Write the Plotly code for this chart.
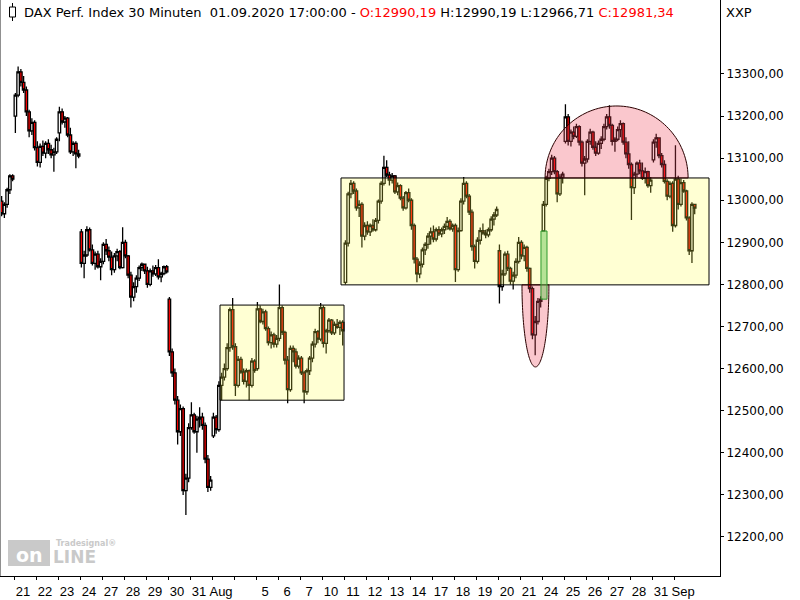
import numpy as np
import plotly.graph_objects as go

# session labels on the time axis (one per trading day, "" = no label)
day_labels = ["21", "22", "23", "24", "27", "28", "29", "30", "31", "Aug", "",
              "5", "6", "7", "10", "11", "12", "13", "14", "17", "18", "19", "20",
              "21", "24", "25", "26", "27", "28", "31", "Sep"]
bars_per_day = 8
first_bar = -5  # last bars of 20 July still visible at the left edge

# OHLC, one row per session (first row = tail of 20 July)
opens = [
    12998, 12968, 12990, 13025, 13058,
    13200, 13250, 13305, 13280, 13262, 13210, 13165, 13185,
    13125, 13090, 13128, 13112, 13135, 13120, 13108, 13115,
    13160, 13210, 13186, 13195, 13155, 13115, 13135, 13110,
    12925, 12850, 12870, 12930, 12882, 12850, 12872, 12842,
    12855, 12895, 12880, 12865, 12835, 12868, 12878, 12840,
    12900, 12868, 12822, 12770, 12795, 12815, 12840, 12848,
    12832, 12800, 12832, 12825, 12840, 12818, 12826, 12842,
    12765, 12640, 12590, 12525, 12450, 12505, 12310, 12340,
    12460, 12490, 12450, 12480, 12485, 12465, 12385, 12318,
    12440, 12485, 12455, 12560, 12580, 12600, 12650, 12740,
    12652, 12560, 12622, 12592, 12570, 12595, 12560, 12618,
    12600, 12742, 12712, 12735, 12695, 12662, 12680, 12658,
    12672, 12745, 12686, 12620, 12550, 12648, 12640, 12606,
    12625, 12590, 12545, 12595, 12625, 12658, 12688, 12670,
    12745, 12660, 12690, 12715, 12685, 12705, 12698, 12710,
    12805, 12898, 13015, 13040, 13022, 12982, 12990, 12915,
    12940, 12925, 12940, 12930, 12952, 12998, 13040, 13078,
    13060, 13048, 13058, 13020, 13035, 13005, 12982, 13018,
    13000, 12940, 12860, 12825, 12848, 12882, 12895, 12915,
    12925, 12908, 12930, 12920, 12930, 12938, 12950, 12932,
    12940, 12835, 12928, 12998, 13040, 13010, 12972, 12890,
    12855, 12905, 12928, 12922, 12918, 12930, 12955, 12965,
    12880, 12795, 12825, 12872, 12838, 12808, 12822, 12855,
    12900, 12868, 12888, 12838, 12790, 12680, 12712, 12760,
    12927, 12990, 13052, 13068, 13100, 13068, 13015, 13055,
    13140, 13198, 13140, 13162, 13152, 13175, 13138, 13088,
    13098, 13140, 13162, 13126, 13112, 13135, 13145, 13175,
    13198, 13178, 13140, 13145, 13168, 13182, 13138, 13110,
    13085, 13030, 13062, 13088, 13070, 13052, 13068, 13035,
    13096, 13138, 13148, 13106, 13085, 13045, 13010, 13040,
    12940, 13050, 12990, 13042, 13022, 12958, 12880, 12990.19,
]
highs = [
    13010, 12995, 13030, 13062, 13062,
    13255, 13318, 13312, 13295, 13270, 13215, 13195, 13190,
    13140, 13135, 13142, 13140, 13145, 13132, 13125, 13150,
    13222, 13218, 13200, 13198, 13172, 13140, 13140, 13120,
    12932, 12880, 12938, 12935, 12895, 12878, 12880, 12862,
    12900, 12908, 12890, 12878, 12875, 12885, 12882, 12936,
    12906, 12870, 12830, 12805, 12822, 12845, 12852, 12850,
    12842, 12838, 12845, 12846, 12860, 12830, 12845, 12846,
    12770, 12648, 12600, 12535, 12515, 12510, 12350, 12470,
    12520, 12495, 12488, 12508, 12495, 12472, 12395, 12345,
    12495, 12490, 12570, 12590, 12612, 12660, 12745, 12768,
    12660, 12630, 12628, 12600, 12600, 12598, 12625, 12622,
    12758, 12750, 12742, 12740, 12700, 12688, 12685, 12680,
    12800, 12750, 12690, 12630, 12655, 12655, 12648, 12632,
    12630, 12595, 12600, 12630, 12665, 12695, 12692, 12756,
    12750, 12695, 12720, 12718, 12712, 12718, 12715, 12715,
    12905, 13020, 13048, 13045, 13028, 13000, 12995, 12948,
    12950, 12945, 12955, 12958, 13002, 13045, 13106, 13095,
    13068, 13065, 13060, 13042, 13038, 13010, 13022, 13028,
    13005, 12945, 12865, 12855, 12888, 12900, 12922, 12935,
    12940, 12935, 12938, 12935, 12945, 12960, 12955, 12945,
    12945, 12935, 13005, 13055, 13045, 13015, 12978, 12895,
    12912, 12935, 12945, 12930, 12935, 12962, 12972, 12985,
    12895, 12835, 12878, 12880, 12842, 12830, 12862, 12913,
    12905, 12895, 12892, 12840, 12795, 12725, 12768, 12772,
    12998, 13058, 13075, 13108, 13105, 13072, 13062, 13068,
    13228, 13205, 13168, 13175, 13182, 13178, 13142, 13105,
    13145, 13170, 13165, 13140, 13142, 13152, 13182, 13205,
    13226, 13182, 13150, 13175, 13190, 13185, 13150, 13140,
    13090, 13068, 13092, 13096, 13090, 13078, 13070, 13055,
    13145, 13158, 13150, 13112, 13095, 13050, 13045, 13045,
    13131, 13058, 13052, 13048, 13025, 12962, 12995, 12990.19,
]
lows = [
    12962, 12958, 12982, 13015, 13045,
    13160, 13245, 13270, 13255, 13200, 13150, 13155, 13118,
    13080, 13078, 13105, 13100, 13110, 13100, 13068, 13110,
    13140, 13180, 13172, 13150, 13110, 13105, 13076, 13100,
    12840, 12815, 12865, 12878, 12845, 12835, 12838, 12810,
    12848, 12870, 12855, 12822, 12828, 12855, 12836, 12838,
    12862, 12815, 12745, 12760, 12780, 12808, 12832, 12825,
    12792, 12796, 12818, 12820, 12812, 12805, 12822, 12826,
    12630, 12580, 12515, 12420, 12440, 12300, 12252, 12330,
    12455, 12445, 12400, 12460, 12455, 12375, 12307, 12310,
    12435, 12445, 12450, 12525, 12572, 12595, 12640, 12645,
    12535, 12555, 12588, 12562, 12555, 12525, 12555, 12590,
    12595, 12708, 12705, 12690, 12655, 12648, 12650, 12650,
    12665, 12680, 12610, 12518, 12545, 12615, 12600, 12600,
    12585, 12518, 12538, 12585, 12615, 12650, 12660, 12665,
    12650, 12636, 12685, 12680, 12680, 12695, 12680, 12655,
    12800, 12890, 13005, 13015, 12975, 12960, 12888, 12905,
    12918, 12915, 12925, 12926, 12945, 12992, 13035, 13055,
    13035, 13040, 13015, 13012, 13000, 12975, 12978, 12995,
    12930, 12850, 12805, 12815, 12840, 12870, 12885, 12895,
    12900, 12902, 12915, 12912, 12920, 12930, 12928, 12925,
    12806, 12830, 12925, 12990, 13005, 12965, 12880, 12838,
    12850, 12895, 12918, 12910, 12912, 12925, 12940, 12960,
    12755, 12785, 12820, 12832, 12800, 12788, 12815, 12850,
    12860, 12855, 12830, 12780, 12670, 12632, 12705, 12745,
    12925, 12985, 13045, 13060, 13062, 12995, 13010, 13040,
    13135, 13130, 13128, 13145, 13148, 13130, 13080, 13012,
    13090, 13132, 13120, 13105, 13108, 13122, 13140, 13168,
    13170, 13130, 13115, 13140, 13150, 13132, 13100, 13075,
    12953, 13015, 13055, 13062, 13048, 13040, 13030, 13018,
    13090, 13125, 13100, 13078, 13040, 13000, 13005, 12925,
    12935, 12978, 12985, 13018, 12952, 12870, 12851, 12966.71,
]
closes = [
    12968, 12990, 13025, 13058, 13050,
    13250, 13305, 13280, 13262, 13210, 13165, 13185, 13125,
    13090, 13128, 13112, 13135, 13120, 13108, 13115, 13145,
    13210, 13186, 13195, 13155, 13115, 13135, 13110, 13105,
    12850, 12870, 12930, 12882, 12850, 12872, 12842, 12855,
    12895, 12880, 12865, 12835, 12868, 12878, 12840, 12900,
    12868, 12822, 12770, 12795, 12815, 12840, 12848, 12832,
    12800, 12832, 12825, 12840, 12818, 12826, 12842, 12830,
    12640, 12590, 12525, 12450, 12505, 12310, 12340, 12460,
    12490, 12450, 12480, 12485, 12465, 12385, 12318, 12335,
    12485, 12455, 12560, 12580, 12600, 12650, 12740, 12652,
    12560, 12622, 12592, 12570, 12595, 12560, 12618, 12596,
    12742, 12712, 12735, 12695, 12662, 12680, 12658, 12672,
    12745, 12686, 12620, 12550, 12648, 12640, 12606, 12625,
    12590, 12545, 12595, 12625, 12658, 12688, 12670, 12745,
    12660, 12690, 12715, 12685, 12705, 12698, 12710, 12690,
    12898, 13015, 13040, 13022, 12982, 12990, 12915, 12940,
    12925, 12940, 12930, 12952, 12998, 13040, 13078, 13060,
    13048, 13058, 13020, 13035, 13005, 12982, 13018, 13000,
    12940, 12860, 12825, 12848, 12882, 12895, 12915, 12925,
    12908, 12930, 12920, 12930, 12938, 12950, 12932, 12940,
    12835, 12928, 12998, 13040, 13010, 12972, 12890, 12855,
    12905, 12928, 12922, 12918, 12930, 12955, 12965, 12978,
    12795, 12825, 12872, 12838, 12808, 12822, 12855, 12900,
    12868, 12888, 12838, 12790, 12680, 12712, 12760, 12765,
    12990, 13052, 13068, 13100, 13068, 13015, 13055, 13062,
    13198, 13140, 13162, 13152, 13175, 13138, 13088, 13098,
    13140, 13162, 13126, 13112, 13135, 13145, 13175, 13198,
    13178, 13140, 13145, 13168, 13182, 13138, 13110, 13085,
    13030, 13062, 13088, 13070, 13052, 13068, 13035, 13048,
    13138, 13148, 13106, 13085, 13045, 13010, 13040, 12940,
    13050, 12990, 13042, 13022, 12958, 12880, 12990, 12981.34,
]

price_ticks = list(range(12200, 13301, 100))

# drawn analysis objects (bar index / price)
yellow_boxes = [(74.4, 119.5, 12525, 12751), (118.4, 252.2, 12799, 13053)]
gap_box = (191.1, 193.3, 12765, 12927)

x = np.arange(first_bar, first_bar + len(closes))
W, H = 720, 576  # plot area in px


def half_ellipse(cx, a, y_base, y_tip, n=80):
    t = np.linspace(0, np.pi, n)
    xs = cx + a * np.cos(t)
    ys = y_base + (y_tip - y_base) * np.sin(t)
    return "M " + " L ".join(f"{u:.3f},{v:.2f}" for u, v in zip(xs, ys)) + " Z"


def de(v):
    return f"{v:.2f}".replace(".", ",")


fig = go.Figure()
fig.add_trace(go.Candlestick(
    x=x, open=opens, high=highs, low=lows, close=closes,
    increasing=dict(fillcolor="white", line=dict(color="black", width=1.3)),
    decreasing=dict(fillcolor="#ff0000", line=dict(color="black", width=1.3)),
    whiskerwidth=0, showlegend=False, hoverinfo="skip",
))

shapes = []
for x0, x1, y0, y1 in yellow_boxes:
    shapes.append(dict(type="rect", xref="x", yref="y", x0=x0, x1=x1, y0=y0, y1=y1,
                       fillcolor="rgba(255,255,70,0.24)", line=dict(color="black", width=1),
                       layer="above"))
shapes.append(dict(type="path", xref="x", yref="y",
                   path=half_ellipse(218.6, 26.0, 13053, 13224),
                   fillcolor="rgba(240,70,90,0.30)", line=dict(color="#2a0000", width=1),
                   layer="above"))
shapes.append(dict(type="path", xref="x", yref="y",
                   path=half_ellipse(189.1, 4.9, 12799, 12604),
                   fillcolor="rgba(240,70,90,0.30)", line=dict(color="#2a0000", width=1),
                   layer="above"))
shapes.append(dict(type="rect", xref="x", yref="y", x0=gap_box[0], x1=gap_box[1],
                   y0=gap_box[2], y1=gap_box[3],
                   fillcolor="rgba(110,200,90,0.5)", line=dict(color="#2f9a2f", width=1),
                   layer="above"))
# frame
shapes.append(dict(type="line", xref="paper", yref="paper", x0=0, x1=0, y0=0, y1=1,
                   line=dict(color="#909090", width=2)))
# header candle glyph
shapes.append(dict(type="line", xref="paper", yref="paper", x0=12.5 / W, x1=12.5 / W,
                   y0=1 - 3 / H, y1=1 - 21 / H, line=dict(color="black", width=1)))
shapes.append(dict(type="rect", xref="paper", yref="paper", x0=9.5 / W, x1=15.5 / W,
                   y0=1 - 7 / H, y1=1 - 17 / H, fillcolor="white", line=dict(color="black", width=1)))
# logo block
shapes.append(dict(type="rect", xref="paper", yref="paper", x0=8 / W, x1=50 / W,
                   y0=1 - 540 / H, y1=1 - 566 / H, fillcolor="#c9c9c9", line=dict(width=0)))

header = (f"DAX Perf. Index 30 Minuten  01.09.2020 17:00:00 - "
          f"<span style='color:#ff0000'>O:{de(opens[-1])}</span> H:{de(highs[-1])} "
          f"L:{de(lows[-1])} <span style='color:#ff0000'>C:{de(closes[-1])}</span>")

annotations = [
    dict(text=header, xref="paper", yref="paper", x=22 / W, y=1 - 12 / H,
         xanchor="left", yanchor="middle", showarrow=False,
         font=dict(family="DejaVu Sans", size=13, color="black")),
    dict(text="XXP", xref="paper", yref="paper", x=724 / W, y=1 - 12 / H,
         xanchor="left", yanchor="middle", showarrow=False,
         font=dict(family="DejaVu Sans", size=13, color="black")),
    dict(text="<b>on</b>", xref="paper", yref="paper", x=29 / W, y=1 - 555 / H,
         xanchor="center", yanchor="middle", showarrow=False,
         font=dict(family="DejaVu Sans", size=19, color="white")),
    dict(text="<b>LINE</b>", xref="paper", yref="paper", x=51 / W, y=1 - 557 / H,
         xanchor="left", yanchor="middle", showarrow=False,
         font=dict(family="DejaVu Sans", size=17, color="#c9c9c9")),
    dict(text="<b>Tradesignal®</b>", xref="paper", yref="paper", x=54 / W, y=1 - 543 / H,
         xanchor="left", yanchor="middle", showarrow=False,
         font=dict(family="DejaVu Sans", size=8, color="#c9c9c9")),
]

tickvals = [d * bars_per_day - 0.5 for d in range(len(day_labels))]

fig.update_layout(
    width=800, height=600,
    margin=dict(l=0, r=80, t=0, b=24),
    paper_bgcolor="white", plot_bgcolor="white",
    separators=",.", boxgap=0.1, boxgroupgap=0,
    shapes=shapes, annotations=annotations,
    xaxis=dict(
        range=[-5.59, 256.2], rangeslider=dict(visible=False),
        tickvals=tickvals, ticktext=day_labels,
        ticks="outside", ticklen=3, tickcolor="black",
        ticklabelshift=9, showgrid=False, zeroline=False,
        showline=True, linecolor="black", linewidth=1,
        tickfont=dict(family="Liberation Sans Narrow, Liberation Sans", size=13, color="black"),
    ),
    yaxis=dict(
        side="right", range=[12107.3, 13475.8],
        tickvals=price_ticks, tickformat=".2f",
        ticks="outside", ticklen=3, tickcolor="black",
        showgrid=False, zeroline=False,
        showline=True, linecolor="black", linewidth=1,
        tickfont=dict(family="DejaVu Sans", size=12, color="black"),
    ),
)

# the page is photographed from its top-left corner, so drop the default body margin
fig.write_html("out.html", config={"displayModeBar": False},
               post_script="document.body.style.margin='0';")
